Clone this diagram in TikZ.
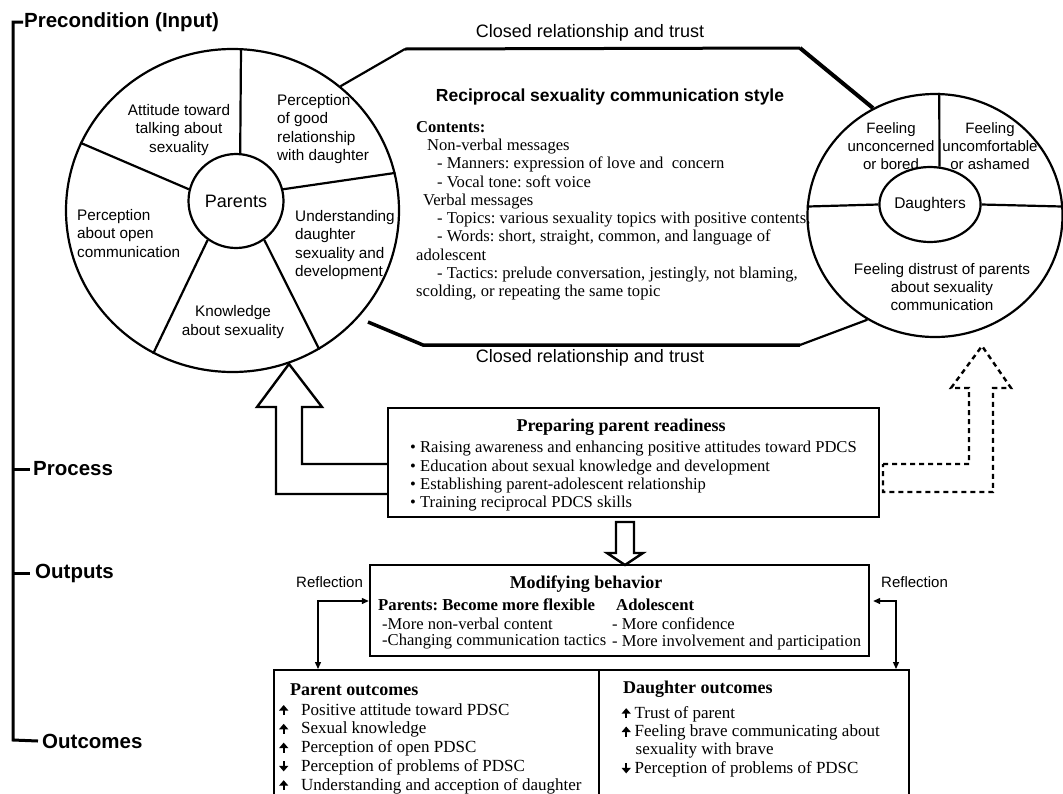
\documentclass[tikz,border=0pt]{standalone}
\usepackage{fontspec}
\setmainfont{Liberation Serif}
\setsansfont{Liberation Sans}
\usetikzlibrary{arrows.meta}
\usetikzlibrary{positioning}
\usetikzlibrary{shapes.geometric}
\frenchspacing
\newcommand\fsz[2]{\fontsize{#1}{#2}\selectfont}
\newcommand\upar{\tikz[baseline=0pt]\draw[line width=2.4pt,-{Triangle[length=5.5pt,width=9pt]}] (0pt,0pt) -- (0pt,10pt);}
\newcommand\dnar{\tikz[baseline=0pt]\draw[line width=2.4pt,-{Triangle[length=5.5pt,width=9pt]}] (0pt,10pt) -- (0pt,0pt);}
\begin{document}
\begin{tikzpicture}[x=1pt,y=-1pt,>={Triangle[length=7pt,width=6pt]},
    lab/.style={font=\sffamily\fsz{15.3}{18.5},align=center,inner sep=0pt},
    labl/.style={font=\sffamily\fsz{15.3}{18.5},align=left,inner sep=0pt,anchor=north west},
    axlab/.style={font=\sffamily\bfseries\fsz{20.5}{24},inner sep=0pt,anchor=west},
    axline/.style={line width=3pt},
    ring/.style={ellipse,draw,line width=2.2pt,inner sep=0pt},
    spoke/.style={line width=2.2pt},
    box/.style={draw,line width=2.4pt,inner sep=0pt},
    txt/.style={font=\fsz{16.6}{18.3},align=left,inner sep=0pt,anchor=north west},
    ttl/.style={font=\bfseries\fsz{18}{20},inner sep=0pt},
    sub/.style={font=\bfseries\fsz{16.7}{18.3},inner sep=0pt,anchor=west},
    line/.style={font=\fsz{16.6}{18.3},inner sep=0pt,anchor=west},
    hollow/.style={line width=2.4pt,line join=miter},
    dhollow/.style={line width=2.4pt,dash pattern=on 5pt off 4pt},
    refl/.style={line width=1.3pt,<->}]

  \useasboundingbox (0,0) rectangle (1063,793);
  \fill[white] (0,0) rectangle (1063,793);

  \node[axlab] (pre) at (24,22) {Precondition (Input)};
  \node[axlab] (proc) at (33,469) {Process};
  \node[axlab] (outp) at (35,573) {Outputs};
  \node[axlab] (outc) at (42,741) {Outcomes};
  \draw[axline] ([xshift=-1pt]pre.west) -- (13,22) -- (13,740) -- ([xshift=-4pt]outc.west);
  \draw[axline] (13,469) -- ([xshift=-3pt]proc.west);
  \draw[axline] (13,573) -- ([xshift=-5pt]outp.west);

  \node[ring,minimum width=333pt,minimum height=323pt] (par) at (232.5,210.5) {};
  \node[ring,minimum width=95pt,minimum height=94pt,font=\sffamily\fsz{18}{20}] (parc) at (236,201) {Parents};
  \draw[spoke] (parc.85) -- (par.87);
  \draw[spoke] (parc.14) -- (par.13);
  \draw[spoke] (parc.-54) -- (par.-58);
  \draw[spoke] (parc.234) -- (par.241);
  \draw[spoke] (parc.166) -- (par.156);

  \node[lab] (att) at (179,130) {Attitude toward\\talking about\\sexuality};
  \node[labl] (good) at (277,94) {Perception\\of good\\relationship\\with daughter};
  \node[labl] (open) at (77,209) {Perception\\about open\\communication};
  \node[labl] (und) at (295,210) {Understanding\\daughter\\sexuality and\\development};
  \node[lab] (know) at (233,322) {Knowledge\\about sexuality};

  \node[ring,minimum width=255pt,minimum height=243pt] (dau) at (935,215.5) {};
  \node[ring,minimum width=85pt,minimum height=75pt,font=\sffamily\fsz{15.5}{18}] (dauc) at (930,204.5) {Daughters};
  \draw[spoke] (dauc.76) -- (dau.88);
  \draw[spoke] (dauc.west) -- (dau.176);
  \draw[spoke] (dauc.east) -- (dau.4);
  \node[lab,font=\sffamily\fsz{15}{18.3}] (bored) at (891,146) {Feeling\\unconcerned\\or bored};
  \node[lab,font=\sffamily\fsz{15}{18.3}] (shame) at (990,146) {Feeling\\uncomfortable\\or ashamed};
  \node[lab,font=\sffamily\fsz{15.3}{18.3}] (dist) at (942,287) {Feeling distrust of parents\\about sexuality\\communication};

  \coordinate (tl) at (405,49);
  \coordinate (tr) at (800,48);
  \coordinate (br) at (800,345);
  \coordinate (bl) at (423,345);
  \coordinate (bls) at (368,322);
  \draw[line width=2.2pt] (par.49) -- (tl);
  \draw[line width=3pt,line join=miter] (tl) -- (tr);
  \draw[line width=4pt] (tr) -- (dau.120);
  \draw[line width=2.2pt] (dau.237) -- (br);
  \draw[line width=3.5pt] (br) -- (bl) -- (bls);

  \node[lab,font=\sffamily\fsz{18}{20}] (trust1) at (590,33) {Closed relationship and trust};
  \node[lab,font=\sffamily\fsz{18}{20}] (trust2) at (590,358) {Closed relationship and trust};
  \node[lab,font=\sffamily\bfseries\fsz{17.5}{20}] (style) at (610,97) {Reciprocal sexuality communication style};
  \node[txt] (cont) at (416,121) {\textbf{Contents:}\\
    \hspace*{11pt}Non-verbal messages\\
    \hspace*{21pt}- Manners: expression of love and\ \ concern\\
    \hspace*{21pt}- Vocal tone: soft voice\\
    \hspace*{7pt}Verbal messages\\
    \hspace*{21pt}- Topics: various sexuality topics with positive contents,\\
    \hspace*{21pt}- Words: short, straight, common, and language of\\
    adolescent\\
    \hspace*{21pt}- Tactics: prelude conversation, jestingly, not blaming,\\
    scolding, or repeating the same topic};

  \node[box,minimum width=491pt,minimum height=109pt] (prep) at (633.5,462.5) {};
  \node[ttl] (prept) at (621,427) {Preparing parent readiness};
  \node[txt] (prepl) at (410,441) {\textbullet\ Raising awareness and enhancing positive attitudes toward PDCS\\
    \textbullet\ Education about sexual knowledge and development\\
    \textbullet\ Establishing parent-adolescent relationship\\
    \textbullet\ Training reciprocal PDCS skills};

  \draw[hollow] (prep.west |- 0,464) -- (302,464) -- (302,407) -- (322,407) -- (289,364)
    -- (257,407) -- (276,407) -- (276,494) -- (prep.west |- 0,494);
  \draw[dhollow] (883,464) -- (969,464) -- (969,388) -- (951,388) -- (982,346)
    -- (1011,388) -- (993,388) -- (993,492) -- (883,492) -- cycle;

  \node[box,minimum width=499pt,minimum height=91pt] (modb) at (619.5,610.5) {};
  \draw[hollow] (616,522) -- (634,522) -- (634,553) -- (643,553) -- (625,565) -- (607,553) -- (616,553) -- cycle;
  \node[ttl] (modt) at (586,584) {Modifying behavior};
  \node[sub] (mpar) at (378,605) {Parents: Become more flexible};
  \node[sub] (mado) at (616,605) {Adolescent};
  \node[line] (m1) at (382,624) {-More non-verbal content};
  \node[line] (m2) at (382,642) {-Changing communication tactics};
  \node[line] (m3) at (612,624) {- More confidence};
  \node[line] (m4) at (612,642) {- More involvement and participation};

  \node[box,minimum width=325pt,minimum height=150pt,anchor=north west] (pres) at (273,669) {};
  \node[box,minimum width=310pt,minimum height=150pt,anchor=north west] (dres) at (598,669) {};

  \node[lab,anchor=west,font=\sffamily\fsz{15}{18}] (refl1) at (296,582) {Reflection};
  \node[lab,anchor=west,font=\sffamily\fsz{15}{18}] (refl2) at (881,582) {Reflection};
  \draw[refl] (pres.north west -| 318,0) |- (modb.west |- 0,601);
  \draw[refl] (dres.north east -| 896,0) |- ([xshift=3pt]modb.east |- 0,601);

  \node[ttl,anchor=west] (prest) at (290,690) {Parent outcomes};
  \node[txt,font=\fsz{17}{18.8}] (presl) at (279,703) {\upar\hspace{13pt}Positive attitude toward PDSC\\
    \upar\hspace{13pt}Sexual knowledge\\
    \upar\hspace{13pt}Perception of open PDSC\\
    \dnar\hspace{13pt}Perception of problems of PDSC\\
    \upar\hspace{13pt}Understanding and acception of daughter};
  \node[ttl,anchor=west] (drest) at (623,689) {Daughter outcomes};
  \node[txt,font=\fsz{17}{18.4}] (dresl) at (621.5,706) {\upar\hspace{4pt}Trust of parent\\
    \upar\hspace{4pt}Feeling brave communicating about\\
    \hspace*{14pt}sexuality with brave\\
    \dnar\hspace{4pt}Perception of problems of PDSC};
\end{tikzpicture}
\end{document}
